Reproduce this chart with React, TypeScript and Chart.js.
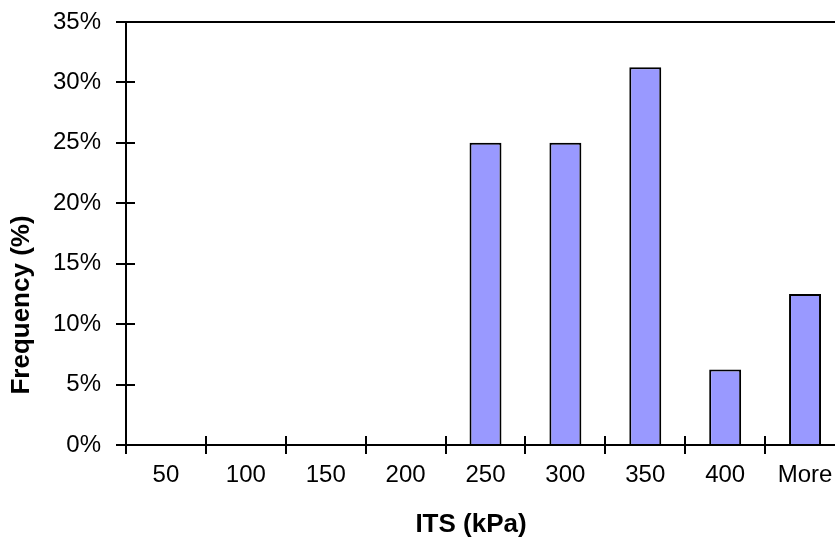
import { useEffect, useRef } from 'react';
import { Chart, registerables } from 'chart.js';

Chart.register(...registerables);

const categories = ['50', '100', '150', '200', '250', '300', '350', '400', 'More'];
const frequencyPct = [0, 0, 0, 0, 25, 25, 31.25, 6.25, 12.5];
const yTickValues = [0, 5, 10, 15, 20, 25, 30, 35];
const xAxisTitle = 'ITS (kPa)';
const yAxisTitle = 'Frequency (%)';

const FONT = '"Liberation Sans", Arial, Helvetica, sans-serif';

export default function App() {
  const ref = useRef<HTMLCanvasElement>(null);

  useEffect(() => {
    const canvas = ref.current;
    if (!canvas) return;

    const axesPlugin = {
      id: 'excelAxes',
      afterDatasetsDraw(chart: any) {
        const { ctx, chartArea, scales } = chart;
        const xs = scales.x;
        const ys = scales.y;
        const L = Math.round(chartArea.left);
        const T = Math.round(chartArea.top);
        const B = Math.round(chartArea.bottom);
        const R = chartArea.right;
        ctx.save();
        ctx.strokeStyle = '#000';
        ctx.lineWidth = 2;
        ctx.lineCap = 'butt';
        ctx.beginPath();
        // value axis line
        ctx.moveTo(L, T);
        ctx.lineTo(L, B + 9);
        // top border
        ctx.moveTo(L - 10, T);
        ctx.lineTo(R, T);
        // category axis line
        ctx.moveTo(L, B);
        ctx.lineTo(R, B);
        // value ticks (crossing)
        yTickValues.forEach((v) => {
          const py = Math.round(ys.getPixelForValue(v));
          ctx.moveTo(L - 10, py);
          ctx.lineTo(L + 9, py);
        });
        // category ticks at boundaries (crossing)
        for (let i = 1; i < categories.length; i++) {
          const px = Math.round((xs.getPixelForValue(i - 1) + xs.getPixelForValue(i)) / 2);
          ctx.moveTo(px, B - 9);
          ctx.lineTo(px, B + 9);
        }
        ctx.stroke();

        // axis titles
        ctx.fillStyle = '#000';
        ctx.font = `bold 26px ${FONT}`;
        ctx.textAlign = 'center';
        ctx.textBaseline = 'middle';
        ctx.fillText(xAxisTitle, 471, 525);
        ctx.translate(22, 305);
        ctx.rotate(-Math.PI / 2);
        ctx.fillText(yAxisTitle, 0, 0);
        ctx.restore();
      },
    };

    const chart = new Chart(canvas, {
      type: 'bar',
      data: {
        labels: categories,
        datasets: [
          {
            data: frequencyPct,
            backgroundColor: '#9999FF',
            borderColor: '#000',
            borderWidth: 2,
            categoryPercentage: 1,
            barPercentage: 0.4,
          },
        ],
      },
      options: {
        responsive: false,
        animation: false,
        devicePixelRatio: 1,
        layout: { padding: { left: 0, top: 22, right: 5, bottom: 0 } },
        plugins: {
          legend: { display: false },
          tooltip: { enabled: false },
        },
        scales: {
          x: {
            grid: { display: false },
            border: { display: false },
            ticks: {
              color: '#000',
              font: { family: FONT, size: 24 },
              padding: 8,
              maxRotation: 0,
              autoSkip: false,
            },
            afterFit: (s: any) => {
              s.height = 101;
              s.paddingLeft = 0;
              s.paddingRight = 0;
            },
          },
          y: {
            min: 0,
            max: 35,
            grid: { display: false },
            border: { display: false },
            ticks: {
              stepSize: 5,
              color: '#000',
              font: { family: FONT, size: 24 },
              padding: 17,
              callback: (v: any) => `${v}%`,
            },
            afterFit: (s: any) => {
              s.width = 126;
              s.paddingTop = 0;
              s.paddingBottom = 0;
            },
          },
        },
      },
      plugins: [axesPlugin],
    });

    return () => chart.destroy();
  }, []);

  return (
    <div
      style={{
        position: 'fixed',
        left: 0,
        top: 0,
        width: 835,
        height: 546,
        overflow: 'hidden',
        background: '#fff',
      }}
    >
      <canvas ref={ref} width={850} height={546} style={{ display: 'block' }} />
    </div>
  );
}
